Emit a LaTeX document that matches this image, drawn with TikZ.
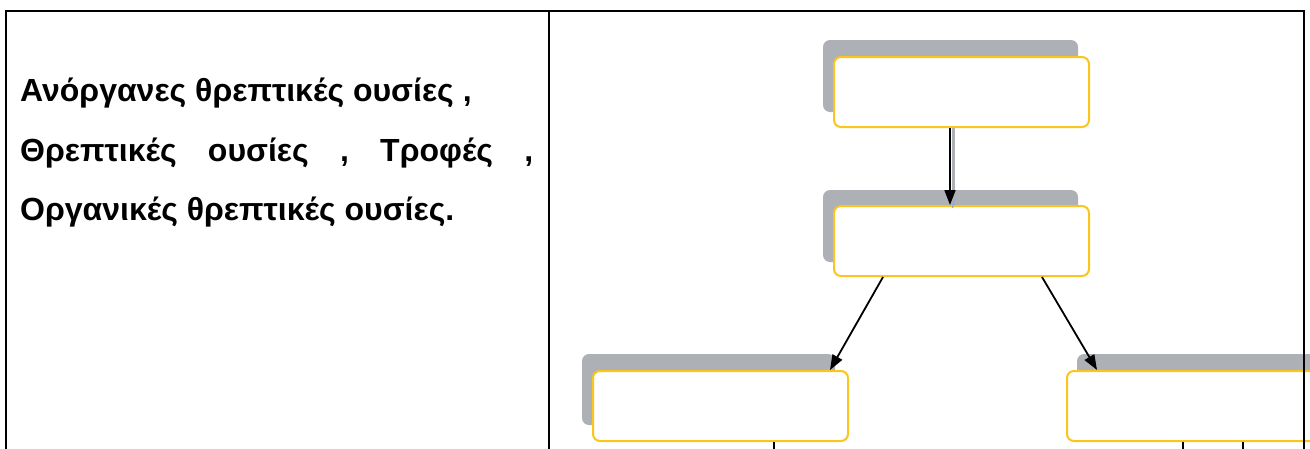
\documentclass[tikz,border=0pt]{standalone}
\usepackage{fontspec}
\setmainfont{Liberation Sans}
\usetikzlibrary{arrows.meta}
\definecolor{boxedge}{RGB}{252,196,30}
\definecolor{boxshade}{RGB}{173,176,181}
\definecolor{tickblue}{RGB}{150,170,200}
\begin{document}
\begin{tikzpicture}[x=1pt,y=-1pt,
  frame/.style={line width=2.5pt,black},
  shade/.style={fill=boxshade,rounded corners=7pt},
  conceptbox/.style={draw=boxedge,line width=2pt,fill=white,rounded corners=7pt,
    minimum width=255pt,minimum height=70pt,inner sep=0pt,anchor=north west},
  link/.style={line width=1.8pt,black,-{Triangle[length=15pt,width=11pt]}},
  stub/.style={line width=1.8pt,black},
  words/.style={anchor=base west,inner sep=0pt,font=\fontsize{32}{38}\selectfont\bfseries}]
\useasboundingbox (0,0) rectangle (1310,448);
\clip (0,0) rectangle (1310,448);

% table frame
\draw[frame] (5,11) -- (1305,11);
\draw[frame] (6,11) -- (6,450);
\draw[frame] (549,11) -- (549,450);

% word list in the left cell
\node[words] (l1) at (20,101) {Ανόργανες θρεπτικές ουσίες ,};
\node[words] (l2) at (20,161) {\hbox to 513pt{Θρεπτικές\hfill ουσίες\hfill ,\hfill Τροφές\hfill ,}};
\node[words] (l3) at (20,220) {Οργανικές θρεπτικές ουσίες.};

% grey backing plates behind the boxes
\fill[shade] (823,40) rectangle (1078,112);
\fill[shade] (823,190) rectangle (1078,262);
\fill[shade] (582,354) rectangle (835,425);
\fill[shade] (1077,354) rectangle (1340,425);

% concept boxes
\node[conceptbox] (t) at (833,56) {};
\node[conceptbox] (m) at (833,205) {};
\node[conceptbox] (bl) at (592,370) {};
\node[conceptbox,minimum width=270pt] (br) at (1066,370) {};

% right border of the table, over the last box
\draw[frame] (1304,11) -- (1304,450);

% connectors
\draw[line width=2.5pt,boxshade] ([xshift=-8pt]t.south) -- ([xshift=-8pt,yshift=3pt]m.north);
\draw[link] ([xshift=-11.5pt]t.south) -- ([xshift=-11.5pt]m.north);
\draw[tickblue,line width=1.5pt] ([xshift=-9pt,yshift=-3pt]m.north) -- ([xshift=-7pt,yshift=6pt]m.north);
\draw[link] ([xshift=50pt]m.south west) -- ([xshift=-19pt]bl.north east);
\draw[link] ([xshift=-48pt]m.south east) -- ([xshift=31pt]br.north west);

% connectors leaving the lower boxes
\coordinate (e1) at (774,452);
\coordinate (e2) at (1183,452);
\coordinate (e3) at (1243,452);
\draw[stub] ([xshift=182pt]bl.south west) -- (e1);
\draw[stub] ([xshift=117pt]br.south west) -- (e2);
\draw[stub] ([xshift=177pt]br.south west) -- (e3);
\end{tikzpicture}
\end{document}
